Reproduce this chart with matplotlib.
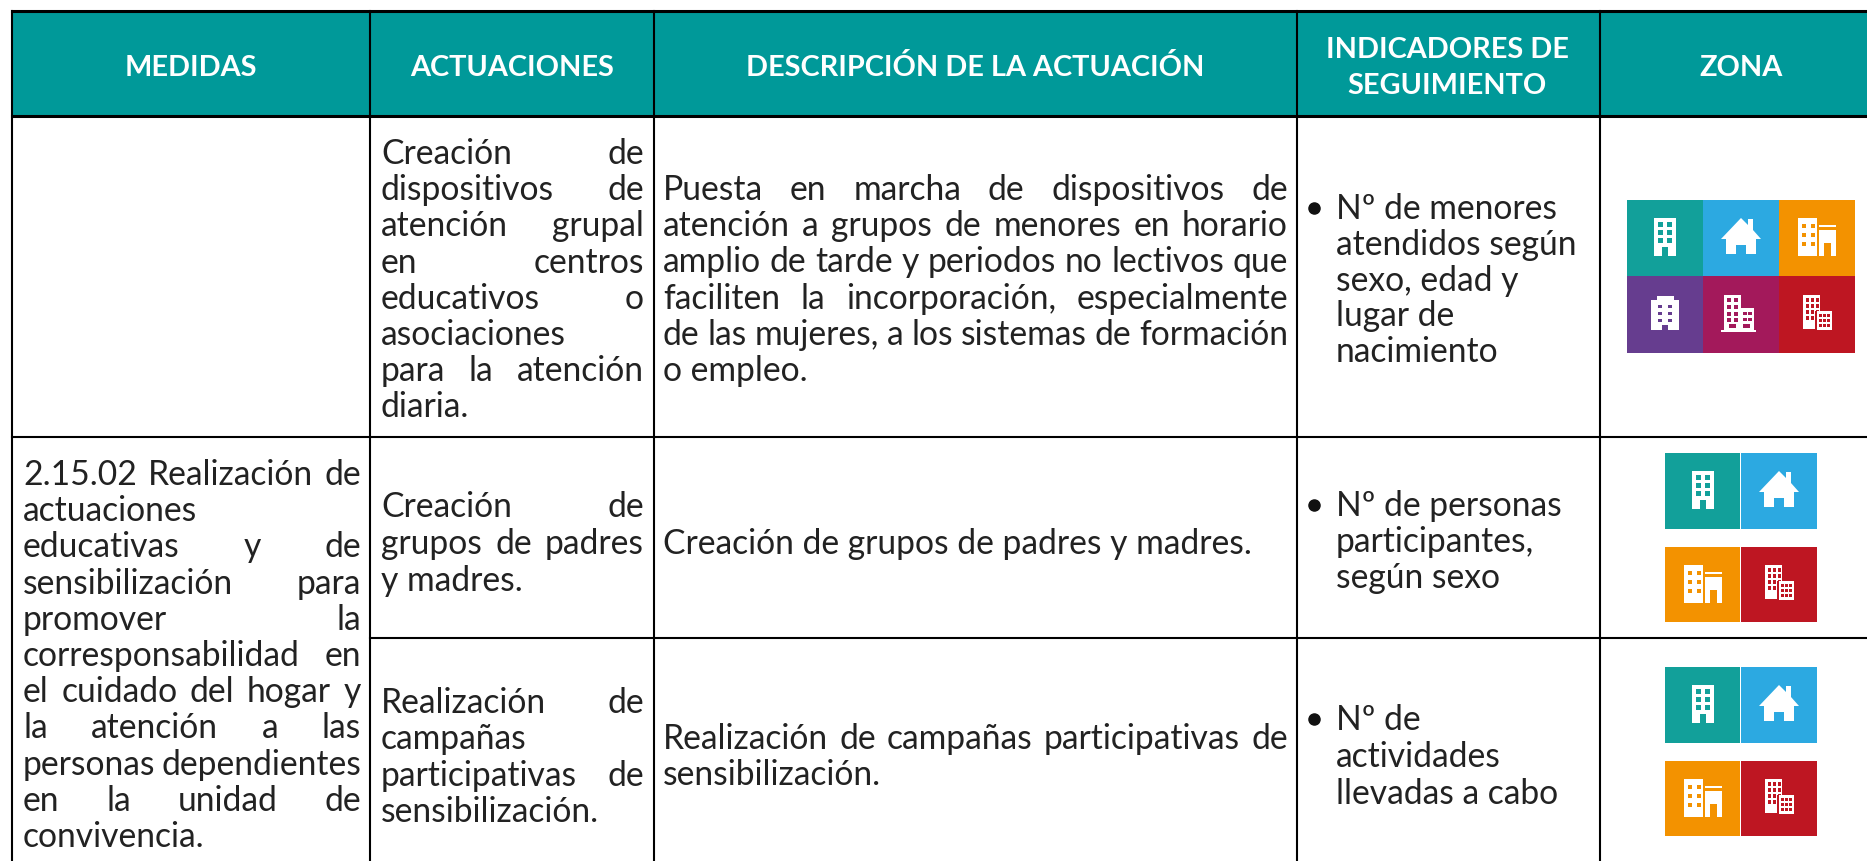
import matplotlib
matplotlib.use("Agg")
import matplotlib.pyplot as plt
from matplotlib.patches import Rectangle, Polygon

plt.rcParams["font.family"] = ["Lato", "DejaVu Sans"]

# textos de la tabla
headers = ["MEDIDAS", "ACTUACIONES", "DESCRIPCIÓN DE LA ACTUACIÓN",
           "INDICADORES DE\nSEGUIMIENTO", "ZONA"]

medida = ["2.15.02 Realización de", "actuaciones", "educativas y de", "sensibilización para",
          "promover la", "corresponsabilidad en", "el cuidado del hogar y", "la atención a las",
          "personas dependientes", "en la unidad de", "convivencia."]
medida_left = [1, 10]

act_1 = ["Creación de", "dispositivos de", "atención grupal", "en centros", "educativos o",
         "asociaciones", "para la atención", "diaria."]
act_2 = ["Creación de", "grupos de padres", "y madres."]
act_3 = ["Realización de", "campañas", "participativas de", "sensibilización."]

desc_1 = ["Puesta en marcha de dispositivos de", "atención a grupos de menores en horario",
          "amplio de tarde y periodos no lectivos que", "faciliten la incorporación, especialmente",
          "de las mujeres, a los sistemas de formación", "o empleo."]
desc_2 = ["Creación de grupos de padres y madres."]
desc_3 = ["Realización de campañas participativas de", "sensibilización."]

ind_1 = ["Nº de menores", "atendidos según", "sexo, edad y", "lugar de", "nacimiento"]
ind_2 = ["Nº de personas", "participantes,", "según sexo"]
ind_3 = ["Nº de", "actividades", "llevadas a cabo"]

colores = {"teal": "#12A09A", "azul": "#2CA9E1", "naranja": "#F39200",
           "morado": "#663D8F", "magenta": "#A3195B", "rojo": "#BE1622"}

fig = plt.figure(figsize=(18.67, 8.61), dpi=100)
ax = fig.add_axes([0, 0, 1, 1])
ax.set_xlim(0, 1867)
ax.set_ylim(861, 0)
ax.axis("off")
rend = fig.canvas.get_renderer()

BODY = dict(fontsize=24.2, color="#222222", va="center", fontweight="normal")
DY = 2


def ancho(s):
    t = ax.text(0, 0, s, **BODY)
    w = t.get_window_extent(rend).width
    t.remove()
    return w


def celda(lineas, x0, x1, y0, paso, izquierda=()):
    # texto justificado, la ultima linea y las indicadas van a la izquierda
    for i, linea in enumerate(lineas):
        y = y0 + i * paso + DY
        palabras = linea.split(" ")
        if i == len(lineas) - 1 or i in izquierda or len(palabras) == 1:
            ax.text(x0, y, linea, **BODY)
            continue
        anchos = [ancho(p) for p in palabras]
        hueco = (x1 - x0 - sum(anchos)) / (len(palabras) - 1)
        x = x0
        for p, w in zip(palabras, anchos):
            ax.text(x, y, p, **BODY)
            x += w + hueco


def lista(lineas, y0, paso):
    ax.plot([1314], [y0 + 1], "o", color="#111111", ms=8)
    for i, linea in enumerate(lineas):
        ax.text(1336, y0 + i * paso + DY, linea, **BODY)


def rect(x, y, w, h, c="white"):
    ax.add_patch(Rectangle((x, y), w, h, fc=c, ec="none"))


def edificio(cx, cy, c):
    rect(cx - 11, cy - 19, 22, 38)
    for fx in (-7, 2):
        for fy in (-15, -7, 1):
            rect(cx + fx, cy + fy, 5, 5, c)
    rect(cx - 3, cy + 10, 6, 9, c)


def casa(cx, cy, c):
    ax.add_patch(Polygon([(cx - 20, cy + 2), (cx, cy - 19), (cx + 7, cy - 12), (cx + 7, cy - 18),
                          (cx + 12, cy - 18), (cx + 12, cy - 7), (cx + 20, cy + 2), (cx + 15, cy + 2),
                          (cx + 15, cy + 17), (cx + 5, cy + 17), (cx + 5, cy + 8), (cx - 5, cy + 8),
                          (cx - 5, cy + 17), (cx - 15, cy + 17), (cx - 15, cy + 2)], fc="white", ec="none"))


def fabrica(cx, cy, c):
    rect(cx - 19, cy - 19, 19, 38)
    for fx in (-15, -6):
        for fy in (-13, -4, 5):
            rect(cx + fx, cy + fy, 4, 4, c)
    rect(cx + 2, cy - 12, 17, 2)
    rect(cx + 2, cy - 7, 17, 26)
    rect(cx + 7, cy + 6, 7, 13, c)


def bloque(cx, cy, c):
    rect(cx - 14, cy - 14, 28, 30)
    rect(cx - 8, cy - 18, 17, 5)
    for fx in (-7, 3):
        for fy in (-9, -2, 5):
            rect(cx + fx, cy + fy, 3.5, 3.5, c)
    rect(cx - 3, cy + 11, 6, 5, c)


def hotel(cx, cy, c):
    rect(cx - 17, cy - 19, 17, 35)
    rect(cx, cy - 6, 13, 22)
    rect(cx - 20, cy + 16, 35, 2)
    for fx in (-14, -7):
        for fy in (-16, -9, -2, 4):
            rect(cx + fx, cy + fy, 4, 4, c)
    for fx in (2, 7):
        for fy in (-2, 4):
            rect(cx + fx, cy + fy, 3.5, 3.5, c)
    rect(cx - 12, cy + 10, 7, 4, c)
    rect(cx + 2, cy + 10, 7, 4, c)


def torres(cx, cy, c):
    rect(cx - 14, cy - 19, 17, 34)
    for fx in (-11, -6, -1):
        for fy in (-16, -10, -4, 2):
            rect(cx + fx, cy + fy, 3, 4, c)
    rect(cx - 2, cy - 3, 17, 19, c)
    rect(cx, cy - 3, 15, 19)
    for fx in (2, 6, 10):
        for fy in (0, 5, 10):
            rect(cx + fx, cy + fy, 2.5, 3, c)


def tile(x, y, w, h, nombre, icono):
    c = colores[nombre]
    rect(x, y, w, h, c)
    icono(x + w / 2, y + h / 2 - 1, c)


# cabecera
rect(12, 11, 1855, 105, "#009999")
centros = [191, 512, 975, 1447, 1741]
for s, cx in zip(headers, centros):
    ax.text(cx, 68, s, color="white", fontsize=20.8, fontweight="bold", ha="center", va="center",
            linespacing=1.45)

# cuerpo
celda(act_1, 381, 644, 152, 36.2, izquierda=[5])
celda(desc_1, 663, 1288, 188, 36.2)
lista(ind_1, 207, 35.8)
celda(medida, 23, 361, 473, 36.2, izquierda=medida_left)
celda(act_2, 381, 644, 505, 37)
celda(desc_2, 663, 1288, 542, 36)
lista(ind_2, 504, 36)
celda(act_3, 381, 644, 701, 36.3, izquierda=[1])
celda(desc_3, 663, 1288, 737, 36)
lista(ind_3, 718, 37)

# iconos de zona
tile(1627, 200, 76, 76, "teal", edificio)
tile(1703, 200, 76, 76, "azul", casa)
tile(1779, 200, 76, 76, "naranja", fabrica)
tile(1627, 276, 76, 77, "morado", bloque)
tile(1703, 276, 76, 77, "magenta", hotel)
tile(1779, 276, 76, 77, "rojo", torres)
for y1, y2 in ((453, 547), (667, 761)):
    tile(1665, y1, 75, 76, "teal", edificio)
    tile(1741, y1, 76, 76, "azul", casa)
    tile(1665, y2, 75, 75, "naranja", fabrica)
    tile(1741, y2, 76, 75, "rojo", torres)

# lineas de la tabla
LW = 1.5
ax.plot([12, 1867], [11, 11], color="black", lw=2.2)
ax.plot([12, 1867], [116, 116], color="black", lw=2.2)
ax.plot([12, 1867], [437, 437], color="black", lw=LW)
ax.plot([370, 1867], [638, 638], color="black", lw=LW)
for x in (12, 370, 654, 1297, 1600):
    ax.plot([x, x], [11, 861], color="black", lw=LW)

fig.savefig("out.png", dpi=100)
